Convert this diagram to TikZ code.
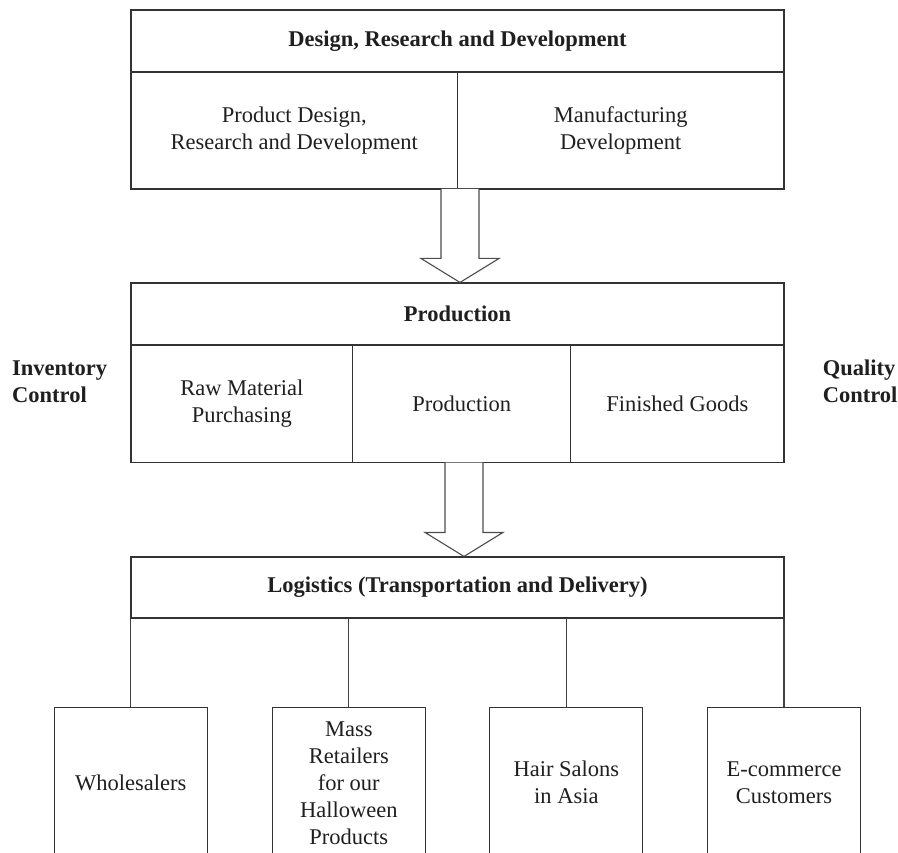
\documentclass[tikz,border=0pt]{standalone}
\usepackage{fontspec}
\setmainfont{Liberation Serif}
\usetikzlibrary{calc}
\begin{document}
\begin{tikzpicture}[x=1pt,y=-1pt,
  every node/.style={font=\fontsize{22.5}{27}\selectfont, text=black!88},
  cell/.style={draw=black!80, line width=1.1pt, rectangle, inner sep=0pt, align=center},
  title/.style={cell, font=\fontsize{22.5}{27}\selectfont\bfseries},
  sidelabel/.style={inner sep=0pt, align=left, font=\fontsize{22.5}{27}\selectfont\bfseries},
  link/.style={draw=black!75, line width=1.1pt},
  blockarrow/.style={draw=black!70, line width=1.1pt, fill=white, line join=miter}
]
\useasboundingbox (0,0) rectangle (898,853);
\clip (0,0) rectangle (898,853);

% Design, research and development block
\node[title, minimum width=653pt, minimum height=62pt] (drd) at (457.5,41) {Design, Research and Development};
\node[cell, minimum width=326.5pt, minimum height=117pt] (pdrd) at (294.25,130.5) {Product Design,\\Research and Development};
\node[cell, minimum width=326.5pt, minimum height=117pt] (mfg) at (620.75,130.5) {Manufacturing\\Development};

% Production block
\node[title, minimum width=653pt, minimum height=62pt] (prod) at (457.5,314) {Production};
\node[cell, minimum width=221.7pt, minimum height=117.5pt] (raw) at (241.85,403.75) {Raw Material\\Purchasing};
\node[cell, minimum width=218pt, minimum height=117.5pt] (make) at (461.7,403.75) {Production};
\node[cell, minimum width=213.3pt, minimum height=117.5pt] (fin) at (677.35,403.75) {Finished Goods};

\node[sidelabel, anchor=west] (inv) at (12,381.5) {Inventory\\Control};
\node[sidelabel, anchor=west] (qual) at (822.7,381.5) {Quality\\Control};

% Logistics block
\node[title, minimum width=653pt, minimum height=61pt] (log) at (457.5,587.5) {Logistics (Transportation and Delivery)};

% Customer channels
\node[cell, minimum width=153pt, minimum height=151pt] (whole) at (130.8,782.8) {Wholesalers};
\node[cell, minimum width=153pt, minimum height=151pt] (mass) at (348.8,782.8) {Mass\\Retailers\\for our\\Halloween\\Products};
\node[cell, minimum width=153pt, minimum height=151pt] (salon) at (566.4,782.8) {Hair Salons\\in Asia};
\node[cell, minimum width=153pt, minimum height=151pt] (ecom) at (784,782.8) {E-commerce\\Customers};

% Tree connectors from logistics to channels
\draw[link] (log.south -| whole.north) -- (whole.north);
\draw[link] (log.south -| mass.north) -- (mass.north);
\draw[link] (log.south -| salon.north) -- (salon.north);
\draw[link] (log.south -| ecom.north) -- (ecom.north);

% Hollow block arrows between stages
\coordinate (t1) at (460,189);
\coordinate (p1) at (prod.north -| t1);
\draw[blockarrow] ([xshift=-19pt]t1) -- ([xshift=-19pt,yshift=24pt]p1) -- ([xshift=-39pt,yshift=24pt]p1) -- (p1)
  -- ([xshift=39pt,yshift=24pt]p1) -- ([xshift=19pt,yshift=24pt]p1) -- ([xshift=19pt]t1);

\coordinate (t2) at (464,462.5);
\coordinate (p2) at (log.north -| t2);
\draw[blockarrow] ([xshift=-19pt]t2) -- ([xshift=-19pt,yshift=24pt]p2) -- ([xshift=-39pt,yshift=24pt]p2) -- (p2)
  -- ([xshift=39pt,yshift=24pt]p2) -- ([xshift=19pt,yshift=24pt]p2) -- ([xshift=19pt]t2);
\end{tikzpicture}
\end{document}
